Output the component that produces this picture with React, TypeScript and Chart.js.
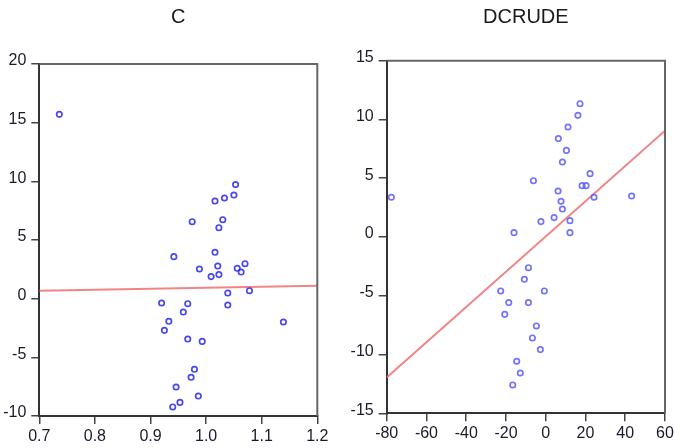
import React, { useEffect, useRef } from "react";
import { Chart, registerables } from "chart.js";

Chart.register(...registerables);

// ---- Panel C ----
const cTitle = "C";
const cX = [0.736, 1.053, 1.05, 1.033, 1.016, 1.03, 0.975, 1.023, 1.016, 0.942, 1.021, 1.07, 0.988, 1.056, 1.063, 1.023, 1.009, 1.039, 1.078, 1.039, 0.92, 0.967, 0.959, 0.933, 1.139, 0.925, 0.967, 0.993, 0.979, 0.973, 0.946, 0.986, 0.953, 0.94];
const cY = [15.71, 9.72, 8.83, 8.58, 8.32, 6.73, 6.56, 6.05, 3.95, 3.58, 2.78, 2.98, 2.53, 2.59, 2.27, 2.05, 1.88, 0.48, 0.68, -0.54, -0.37, -0.43, -1.14, -1.93, -1.99, -2.7, -3.44, -3.64, -6.02, -6.7, -7.53, -8.3, -8.84, -9.23];
const cFitX = [0.7, 1.2];
const cFitY = [0.68, 1.11];
const cXTicks = { min: 0.7, max: 1.2, step: 0.1, digits: 1 };
const cYTicks = { min: -10, max: 20, step: 5 };

// ---- Panel DCRUDE ----
const dTitle = "DCRUDE";
const dX = [-77.65, 17.25, 16.2, 11.2, 6.35, 10.4, 8.4, 22.3, -6.2, 18.3, 20.3, 6.2, 24.3, 43.2, 7.7, 8.4, 4.2, -2.4, 12.2, 12.2, -15.95, -8.7, -10.75, -22.65, -0.7, -18.6, -8.7, -20.6, -4.7, -6.7, -2.7, -14.6, -12.8, -16.6];
const dY = [3.38, 11.34, 10.35, 9.36, 8.37, 7.37, 6.38, 5.39, 4.79, 4.37, 4.37, 3.91, 3.38, 3.49, 3.04, 2.38, 1.65, 1.31, 1.39, 0.37, 0.37, -2.61, -3.6, -4.59, -4.59, -5.58, -5.58, -6.58, -7.57, -8.59, -9.58, -10.57, -11.57, -12.59];
const dFitX = [-80, 60];
const dFitY = [-11.96, 9.05];
const dXTicks = { min: -80, max: 60, step: 20, digits: 0 };
const dYTicks = { min: -15, max: 15, step: 5 };

type Layout = { yw: number; xh: number; padR: number; titleTop: number; titleBottom: number };

const FONT = "'Liberation Sans', Arial, sans-serif";

const framePlugin = {
  id: "frame",
  afterDraw(chart: any) {
    const { ctx, chartArea: a } = chart;
    ctx.save();
    ctx.strokeStyle = "#666";
    ctx.lineWidth = 2;
    ctx.beginPath();
    ctx.moveTo(a.left, a.top);
    ctx.lineTo(a.right, a.top);
    ctx.lineTo(a.right, a.bottom);
    ctx.stroke();
    ctx.restore();
  },
};

function Panel(props: {
  title: string;
  xs: number[];
  ys: number[];
  fitX: number[];
  fitY: number[];
  xt: { min: number; max: number; step: number; digits: number };
  yt: { min: number; max: number; step: number };
  lay: Layout;
  pointColor: string;
  left: number;
}) {
  const ref = useRef<HTMLCanvasElement>(null);
  useEffect(() => {
    const { title, xs, ys, fitX, fitY, xt, yt, lay, pointColor } = props;
    const tickFont = { family: FONT, size: 16 };
    const chart = new Chart(ref.current!, {
      type: "scatter",
      data: {
        datasets: [
          {
            data: xs.map((x, i) => ({ x, y: ys[i] })),
            pointRadius: 2.7,
            pointBorderWidth: 1.7,
            borderColor: pointColor,
            backgroundColor: "rgba(0,0,0,0)",
            showLine: false,
            order: 1,
          },
          {
            data: fitX.map((x, i) => ({ x, y: fitY[i] })),
            showLine: true,
            pointRadius: 0,
            borderColor: "rgba(240,120,120,0.9)",
            borderWidth: 2,
            order: 2,
          },
        ],
      },
      options: {
        animation: false,
        responsive: false,
        layout: { padding: { left: 0, right: lay.padR, top: 0, bottom: 0 } },
        plugins: {
          legend: { display: false },
          tooltip: { enabled: false },
          title: {
            display: true,
            text: title,
            fullSize: false,
            color: "#1a1a1a",
            font: { family: FONT, size: 20, weight: "normal" },
            padding: { top: lay.titleTop, bottom: lay.titleBottom },
          },
        },
        scales: {
          x: {
            type: "linear",
            min: xt.min,
            max: xt.max,
            border: { display: true, color: "#333", width: 2 },
            grid: { display: true, drawOnChartArea: false, drawTicks: true, tickLength: 8, color: "#444", lineWidth: 1.5 },
            ticks: {
              stepSize: xt.step,
              color: "#1a1a2a",
              font: tickFont,
              padding: 3,
              maxRotation: 0,
              autoSkip: false,
              callback: (v: any) => Number(v).toFixed(xt.digits),
            },
            afterFit: (s: any) => {
              s.height = lay.xh;
              s.paddingLeft = 0;
              s.paddingRight = 0;
            },
          },
          y: {
            type: "linear",
            min: yt.min,
            max: yt.max,
            border: { display: true, color: "#333", width: 2 },
            grid: { display: true, drawOnChartArea: false, drawTicks: true, tickLength: 8, color: "#444", lineWidth: 1.5 },
            ticks: {
              stepSize: yt.step,
              color: "#1a1a2a",
              font: tickFont,
              padding: 5,
              labelOffset: -3,
              autoSkip: false,
            },
            afterFit: (s: any) => {
              s.width = lay.yw;
              s.paddingTop = 0;
              s.paddingBottom = 0;
            },
          },
        },
      },
      plugins: [framePlugin],
    });
    return () => chart.destroy();
  }, []);
  return (
    <canvas
      ref={ref}
      width={337}
      height={448}
      style={{ position: "absolute", left: props.left, top: 0, width: 337, height: 448 }}
    />
  );
}

export default function App() {
  return (
    <div style={{ position: "absolute", left: 0, top: 0, width: 674, height: 448, background: "#fff" }}>
      <Panel
        title={cTitle}
        xs={cX}
        ys={cY}
        fitX={cFitX}
        fitY={cFitY}
        xt={cXTicks}
        yt={cYTicks}
        lay={{ yw: 39.3, xh: 32, padR: 19.7, titleTop: 5, titleBottom: 35 }}
        pointColor="rgba(40,40,240,0.85)"
        left={0}
      />
      <Panel
        title={dTitle}
        xs={dX}
        ys={dY}
        fitX={dFitX}
        fitY={dFitY}
        xt={dXTicks}
        yt={dYTicks}
        lay={{ yw: 49.7, xh: 34.7, padR: 9, titleTop: 5, titleBottom: 31.7 }}
        pointColor="rgba(90,90,250,0.85)"
        left={337}
      />
    </div>
  );
}
